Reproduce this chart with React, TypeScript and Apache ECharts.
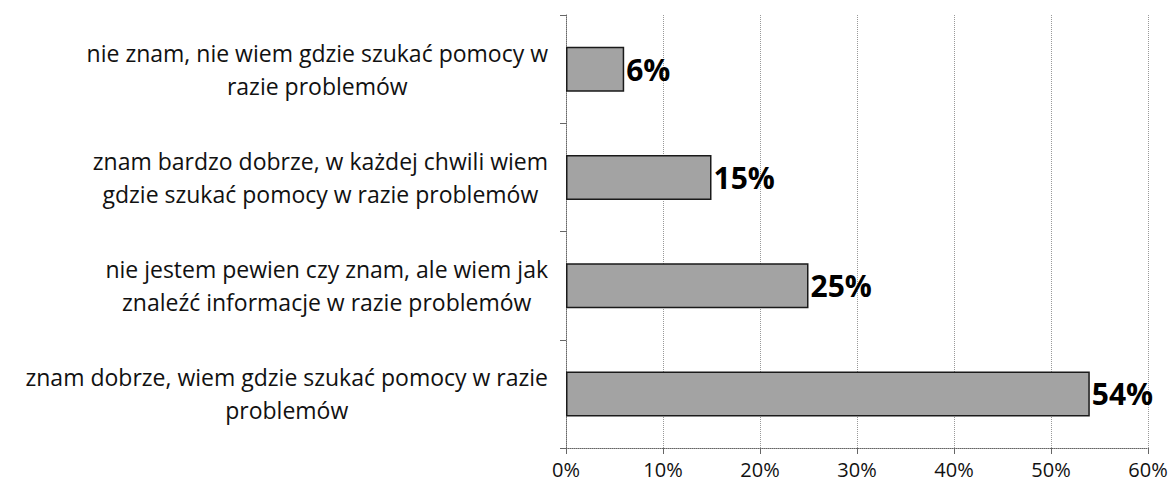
import React, { useEffect, useRef } from "react";
import * as echarts from "echarts";

const categories = [
  "nie znam, nie wiem gdzie szukać pomocy w\nrazie problemów",
  "znam bardzo dobrze, w każdej chwili wiem\ngdzie szukać pomocy w razie problemów",
  "nie jestem pewien czy znam, ale wiem jak\nznaleźć informacje w razie problemów",
  "znam dobrze, wiem gdzie szukać pomocy w razie\nproblemów",
];
const values = [6, 15, 25, 54];
const xTicks = [0, 10, 20, 30, 40, 50, 60];

const FONT = "Open Sans";

export default function App() {
  const ref = useRef<HTMLDivElement>(null);
  useEffect(() => {
    if (!ref.current) return;
    const chart = echarts.init(ref.current, undefined, { renderer: "svg" });
    chart.setOption({
      animation: false,
      backgroundColor: "#ffffff",
      grid: { left: 566, right: 26, top: 15, bottom: 46, containLabel: false },
      xAxis: {
        type: "value",
        min: xTicks[0],
        max: xTicks[xTicks.length - 1],
        interval: 10,
        axisLine: { show: true, lineStyle: { color: "#666", type: "dotted", width: 1 } },
        axisTick: { show: true, length: 6, lineStyle: { color: "#666" } },
        splitLine: { show: true, lineStyle: { color: "#999", type: "dotted", width: 1 } },
        axisLabel: {
          formatter: (v: number) => `${v}%`,
          fontFamily: FONT,
          fontSize: 20,
          color: "#111",
          margin: 11,
        },
      },
      yAxis: {
        type: "category",
        data: categories,
        inverse: true,
        axisLine: { show: true, lineStyle: { color: "#666", type: "dotted", width: 1 } },
        axisTick: { show: true, length: 6, lineStyle: { color: "#666" } },
        splitLine: { show: false },
        axisLabel: {
          margin: 18,
          align: "right",
          formatter: (v: string) =>
            v
              .split("\n")
              .map((l) => `{c|${l}}`)
              .join("\n"),
          rich: {
            c: {
              align: "center",
              fontFamily: FONT,
              fontSize: 23,
              color: "#111",
              lineHeight: 33,
            },
          },
        },
      },
      series: [
        {
          type: "bar",
          data: values,
          barWidth: 45,
          itemStyle: { color: "#a3a3a3", borderColor: "#1a1a1a", borderWidth: 1.5 },
          label: {
            show: true,
            position: "right",
            distance: 2,
            formatter: (p: any) => `${p.value}%`,
            fontFamily: FONT,
            fontWeight: "bold",
            fontSize: 30,
            color: "#000",
          },
        },
      ],
    });
    return () => chart.dispose();
  }, []);
  return <div ref={ref} style={{ width: 1174, height: 494, position: "absolute", left: 0, top: 0 }} />;
}
